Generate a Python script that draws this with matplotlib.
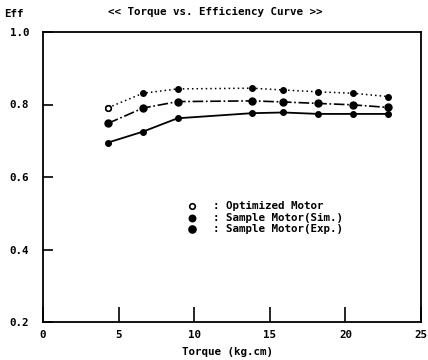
import matplotlib
matplotlib.use('Agg')
import matplotlib.pyplot as plt

# Data
torque = [4.3, 6.6, 8.9, 13.8, 15.9, 18.2, 20.5, 22.8]
eff_opt = [0.791, 0.831, 0.843, 0.845, 0.840, 0.835, 0.831, 0.822]
eff_sim = [0.748, 0.790, 0.808, 0.810, 0.807, 0.803, 0.799, 0.792]
eff_exp = [0.695, 0.725, 0.762, 0.776, 0.778, 0.774, 0.774, 0.774]

x_ticks = [0, 5, 10, 15, 20, 25]
x_tick_labels = ['0', '5', '10', '15', '20', '25']
y_ticks = [0.2, 0.4, 0.6, 0.8, 1.0]
y_tick_labels = ['0.2', '0.4', '0.6', '0.8', '1.0']

legend_labels = [': Optimized Motor', ': Sample Motor(Sim.)', ': Sample Motor(Exp.)']

font = dict(family='DejaVu Sans Mono', fontweight='bold', fontsize=7.8)

fig = plt.figure(figsize=(4.28, 3.6), dpi=100)
ax = fig.add_axes([43 / 428, 38 / 360, 378 / 428, 290 / 360])

ax.plot(torque, eff_opt, color='black', linestyle=(0, (1, 2)), linewidth=1.1,
        marker='o', markersize=4)
ax.plot(torque[:1], eff_opt[:1], linestyle='none', marker='o', markersize=4,
        markerfacecolor='white', markeredgecolor='black', markeredgewidth=1.2)
ax.plot(torque, eff_sim, color='black', linestyle='-.', linewidth=1.2,
        marker='o', markersize=5)
ax.plot(torque, eff_exp, color='black', linestyle='-', linewidth=1.3,
        marker='o', markersize=4)

ax.set_xlim(0, 25)
ax.set_ylim(0.2, 1.0)
ax.set_xticks(x_ticks)
ax.set_xticklabels(x_tick_labels, **font)
ax.set_yticks(y_ticks)
ax.set_yticklabels(y_tick_labels, **font)
ax.tick_params(axis='x', direction='in', length=11, width=1.2, pad=6)
ax.tick_params(axis='y', direction='in', length=7, width=1.2, pad=10)
for s in ax.spines.values():
    s.set_linewidth(1.3)

# Legend drawn by hand
leg_y = [0.40, 0.36, 0.32]
leg_ms = [4, 4.5, 5]
for i, (yy, lab) in enumerate(zip(leg_y, legend_labels)):
    face = 'white' if i == 0 else 'black'
    ax.plot([0.394], [yy], transform=ax.transAxes, linestyle='none', marker='o',
            markersize=leg_ms[i], markerfacecolor=face, markeredgecolor='black',
            markeredgewidth=1.2, clip_on=False)
    ax.text(0.45, yy, lab, transform=ax.transAxes, va='center', ha='left', **font)

fig.text(215 / 428, 1 - 12 / 360, '<< Torque vs. Efficiency Curve >>',
         ha='center', va='center', **font)
fig.text(14 / 428, 1 - 14 / 360, 'Eff', ha='center', va='center', **font)
fig.text(228 / 428, 1 - 352 / 360, 'Torque (kg.cm)', ha='center', va='center', **font)

fig.savefig('out.png', dpi=100)
